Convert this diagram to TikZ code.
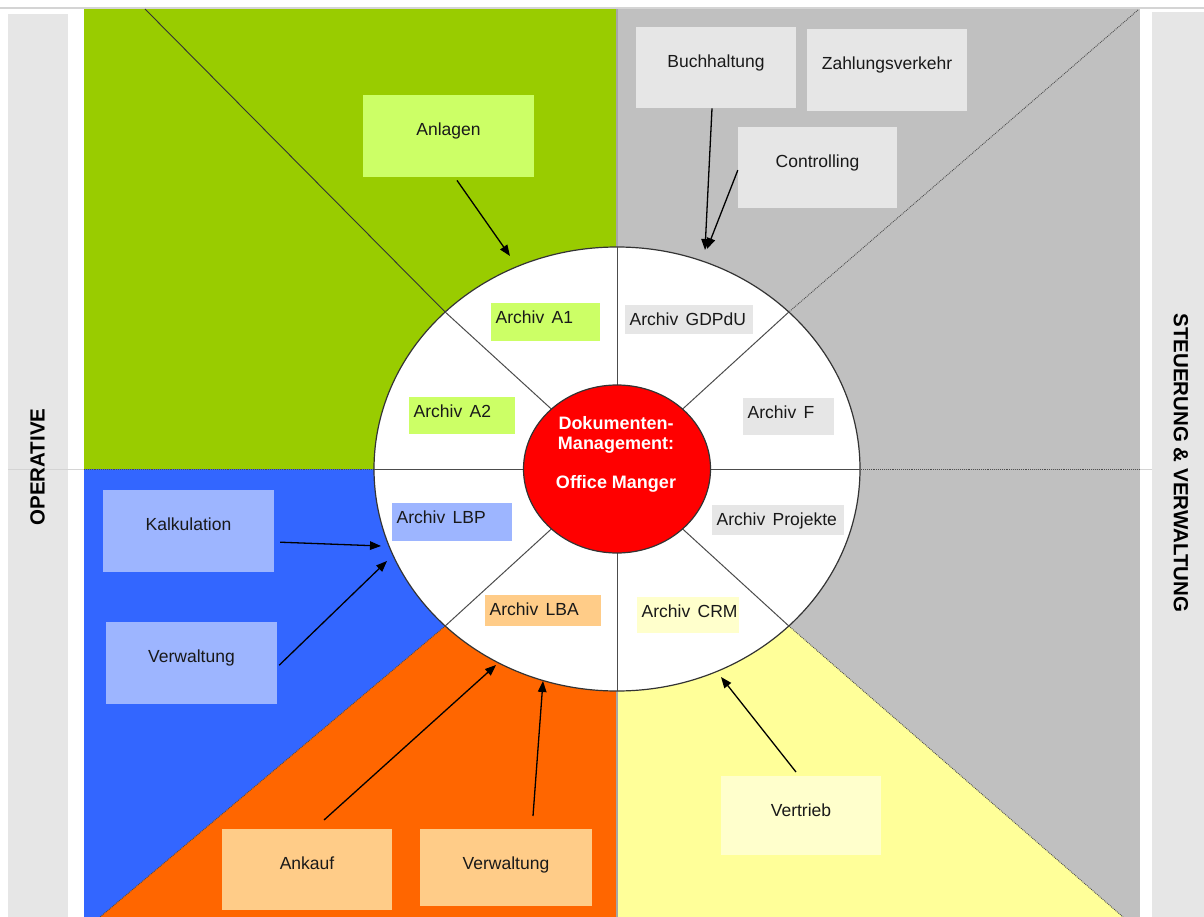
\documentclass[tikz,border=0pt]{standalone}
\usepackage{fontspec}
\setmainfont{Liberation Sans}
\usetikzlibrary{arrows.meta}
\definecolor{qgreen}{HTML}{99CC00}
\definecolor{qgray}{HTML}{C0C0C0}
\definecolor{qblue}{HTML}{3366FF}
\definecolor{qorange}{HTML}{FF6600}
\definecolor{qyellow}{HTML}{FFFF99}
\definecolor{strip}{HTML}{E6E6E6}
\definecolor{linegray}{HTML}{D4D4D4}
\definecolor{blime}{HTML}{CCFF66}
\definecolor{bgray}{HTML}{E6E6E6}
\definecolor{bblue}{HTML}{9DB5FF}
\definecolor{borange}{HTML}{FFCC88}
\definecolor{byellow}{HTML}{FFFFCC}
\definecolor{ringred}{HTML}{FF0000}
\newcommand{\archsp}{\hspace{0.42em}}
\newcommand{\archtxt}[1]{\mbox{Archiv\archsp #1}}
\begin{document}
\begin{tikzpicture}[x=1pt,y=-1pt,
  bigbox/.style={anchor=north, inner sep=0pt, text height=40pt, font=\fontsize{17.5}{20}\selectfont, text=black!90},
  archbox/.style={anchor=north west, inner xsep=4.5pt, inner ysep=0pt, text height=20pt, align=left, font=\fontsize{17.5}{20}\selectfont, text=black!90},
  arr/.style={line width=1.3pt, -{Triangle[length=11pt,width=8.5pt]}},
  side/.style={font=\bfseries\fontsize{20.5}{24}\selectfont, text=black},
  bound/.style={line width=0.9pt, draw=black!70, densely dotted},
  spoke/.style={draw=black!70, line width=1pt},
]
\useasboundingbox (0,0) rectangle (1204,917);
\fill[white] (0,0) rectangle (1204,917);
% frame lines and side strips
\draw[line width=1.2pt, draw=linegray] (0,8) -- (1204,8);
\fill[strip] (8,14) rectangle (68,917);
\fill[strip] (1152,12) rectangle (1204,917);
\draw[linegray, line width=1pt] (8,469) -- (1152,469);
% quadrants
\fill[qgreen] (84,9) rectangle (617,469);
\fill[qgray] (617,9) rectangle (1140,469);
\fill[qblue] (84,469) rectangle (617,917);
\fill[qgray] (617,469) rectangle (1140,917);
\coordinate (c) at (617,469);
\path (c) ++(225:243 and 222) coordinate (ul);
\path (c) ++(315:243 and 222) coordinate (ur);
\path (c) ++(135:243 and 222) coordinate (ll);
\path (c) ++(45:243 and 222) coordinate (lr);
\coordinate (tlc) at (145,9);
\coordinate (trc) at (1138,10);
\coordinate (blc) at (100,917);
\coordinate (brc) at (1123,917);
\coordinate (bm) at (617,917);
\fill[qorange] (ll) -- (blc) -- (bm) -- (c) -- cycle;
\fill[qyellow] (lr) -- (brc) -- (bm) -- (c) -- cycle;
% boundaries
\draw[line width=0.9pt, black!80] (tlc) -- (ul);
\draw[bound] (trc) -- (ur);
\draw[bound] (ll) -- (blc);
\draw[bound] (lr) -- (brc);
\draw[bound] (84,469) -- (1140,469);
\draw[draw=black!35, line width=1.5pt] (617,9) -- (bm);
% ring
\draw[fill=white, draw=black!80, line width=1.2pt] (c) ellipse [x radius=243, y radius=222];
\foreach \a in {0,45,...,315} \draw[spoke] (c) -- ++(\a:243 and 222);
\draw[fill=ringred, draw=black!80, line width=1.2pt] (c) ellipse [x radius=93.5, y radius=84];
\node[text=white, font=\bfseries\fontsize{18}{20}\selectfont, align=center] (dm) at (616,454.5) {Dokumenten-\\Management:\\[19.5pt]Office Manger};
% archive labels
\node[archbox, fill=blime, text width=100pt, text depth=18pt] (a1) at (491,303) {\archtxt{A1}};
\node[archbox, fill=blime, text width=97pt, text depth=17pt] (a2) at (409,397) {\archtxt{A2}};
\node[archbox, fill=bgray, text width=119pt, text depth=9pt] (agd) at (625,305) {\archtxt{GDPdU}};
\node[archbox, fill=bgray, text width=82pt, text depth=17pt] (af) at (743,398) {\archtxt{F}};
\node[archbox, fill=bblue, text width=111pt, text depth=18pt] (albp) at (392,503) {\archtxt{LBP}};
\node[archbox, fill=bgray, text width=123pt, text depth=10pt] (apr) at (712,505) {\archtxt{Projekte}};
\node[archbox, fill=borange, text width=107pt, text depth=11pt] (alba) at (485,595) {\archtxt{LBA}};
\node[archbox, fill=byellow, text width=93pt, text depth=16pt] (acrm) at (637,597) {\archtxt{CRM}};
% outer boxes
\node[bigbox, fill=blime, minimum width=171pt, text depth=42pt] (anl) at (448.5,95) {Anlagen};
\node[bigbox, fill=bgray, minimum width=160pt, text depth=41pt] (buch) at (716,27) {Buchhaltung};
\node[bigbox, fill=bgray, minimum width=160pt, text depth=42pt] (zahl) at (887,29) {Zahlungsverkehr};
\node[bigbox, fill=bgray, minimum width=159pt, text depth=41pt] (cont) at (817.5,127) {Controlling};
\node[bigbox, fill=bblue, minimum width=171pt, text depth=42pt] (kalk) at (188.5,490) {Kalkulation};
\node[bigbox, fill=bblue, minimum width=171pt, text depth=42pt] (verwb) at (191.5,622) {Verwaltung};
\node[bigbox, fill=borange, minimum width=170pt, text depth=41pt] (ank) at (307,829) {Ankauf};
\node[bigbox, fill=borange, minimum width=172pt, text depth=37pt] (verwo) at (506,829) {Verwaltung};
\node[bigbox, fill=byellow, minimum width=160pt, text depth=39pt] (vert) at (801,776) {Vertrieb};
% arrow targets on the ring
\coordinate (anlE) at (510,256);
\coordinate (buchE) at (705,250);
\coordinate (contE) at (707,249);
\coordinate (kalkE) at (381,546);
\coordinate (verwbE) at (387,561);
\coordinate (ankE) at (496,665);
\coordinate (verwoE) at (543,681);
\coordinate (vertE) at (721,677);
% arrows
\draw[arr] ([shift={(8.5,3)}]anl.south) -- (anlE);
\draw[arr] ([shift={(-4,0)}]buch.south) -- (buchE);
\draw[arr] ([shift={(0,2.5)}]cont.west) -- (contE);
\draw[arr] ([shift={(6,11)}]kalk.east) -- (kalkE);
\draw[arr] ([shift={(2,2)}]verwb.east) -- (verwbE);
\draw[arr] ([shift={(17,-9)}]ank.north) -- (ankE);
\draw[arr] ([shift={(27,-13)}]verwo.north) -- (verwoE);
\draw[arr] ([shift={(-5,-4)}]vert.north) -- (vertE);
% side labels
\node[side, rotate=90] (op) at (37.5,467) {OPERATIVE};
\node[side, rotate=-90] (st) at (1181,463) {STEUERUNG \& VERWALTUNG};
\end{tikzpicture}
\end{document}
